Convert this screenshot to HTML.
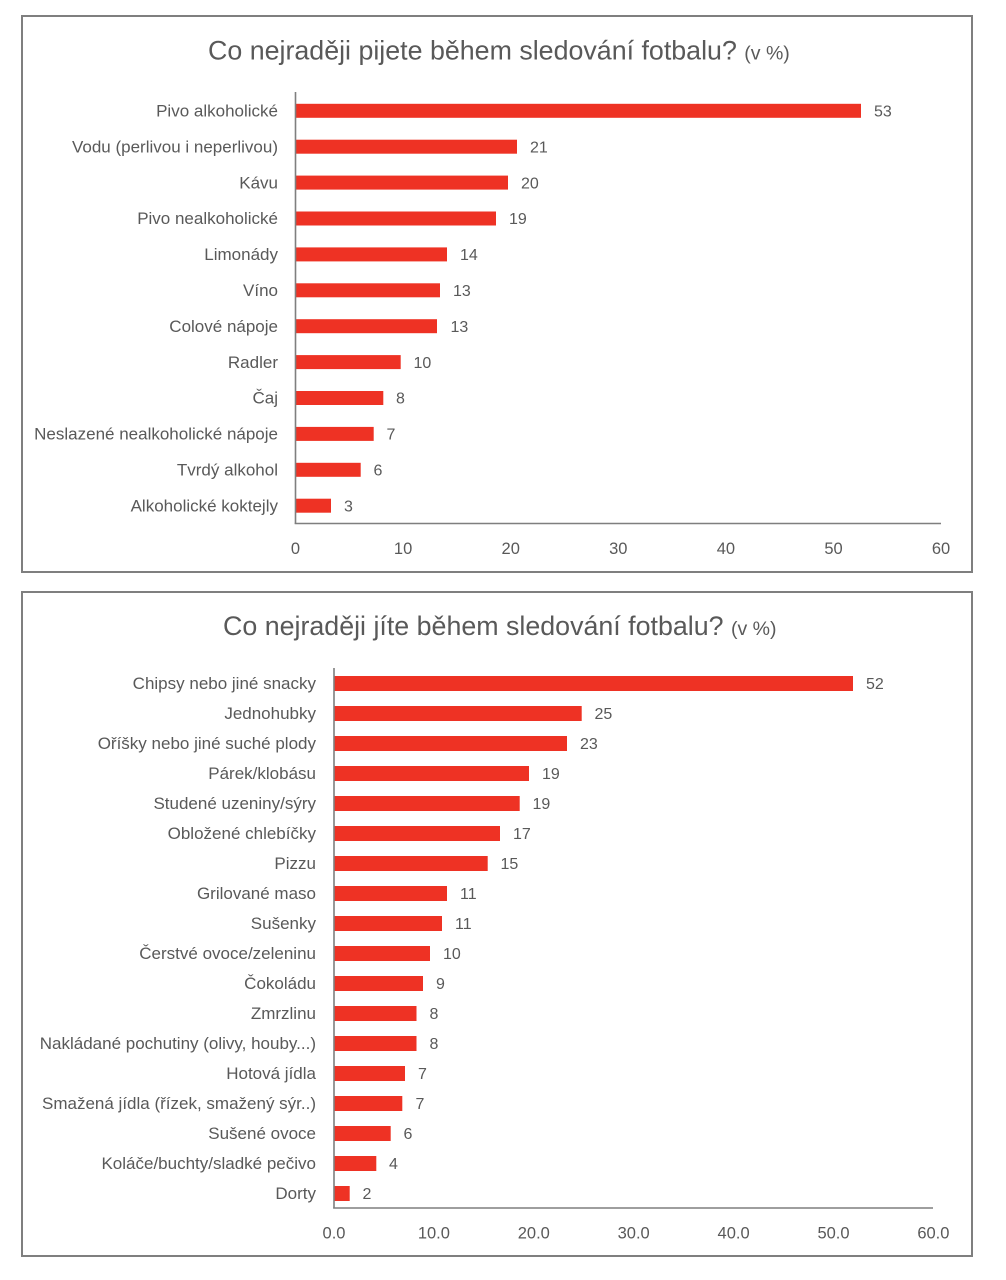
<!DOCTYPE html>
<html>
<head>
<meta charset="utf-8">
<style>
html,body{margin:0;padding:0;background:#fff;}
svg{display:block;}
text{font-family:"Liberation Sans",Arial,sans-serif;fill:#595959;}
.cat{font-size:17px;text-anchor:end;}
.val{font-size:16px;}
.tick{font-size:16.5px;text-anchor:middle;}
.title{font-size:26.8px;}
.bar{fill:#EE3224;}
</style>
</head>
<body>
<svg width="1006" height="1280" viewBox="0 0 1006 1280" xmlns="http://www.w3.org/2000/svg">
<rect x="0" y="0" width="1006" height="1280" fill="#fff"/>

<!-- ===== TOP CHART ===== -->
<rect x="22" y="16" width="950" height="556" fill="#fff" stroke="#7f7f7f" stroke-width="2"/>
<text class="title" x="208" y="59.5">Co nejraději pijete během sledování fotbalu? <tspan font-size="19.5">(v %)</tspan></text>

<!-- bars top: centers 110.8 + 35.9*i, height 14 -->
<rect class="bar" x="296" y="103.8" width="565" height="14"/>
<rect class="bar" x="296" y="139.7" width="221" height="14"/>
<rect class="bar" x="296" y="175.6" width="212" height="14"/>
<rect class="bar" x="296" y="211.5" width="200" height="14"/>
<rect class="bar" x="296" y="247.4" width="151" height="14"/>
<rect class="bar" x="296" y="283.3" width="144" height="14"/>
<rect class="bar" x="296" y="319.2" width="141" height="14"/>
<rect class="bar" x="296" y="355.1" width="104.7" height="14"/>
<rect class="bar" x="296" y="391.0" width="87.3" height="14"/>
<rect class="bar" x="296" y="426.9" width="77.7" height="14"/>
<rect class="bar" x="296" y="462.8" width="64.7" height="14"/>
<rect class="bar" x="296" y="498.7" width="35" height="14"/>

<!-- axes top -->
<line x1="295.5" y1="92" x2="295.5" y2="524" stroke="#7f7f7f" stroke-width="1.6"/>
<line x1="294.7" y1="523.5" x2="941" y2="523.5" stroke="#7f7f7f" stroke-width="1.6"/>

<!-- category labels top -->
<text class="cat" x="278" y="116.5">Pivo alkoholické</text>
<text class="cat" x="278" y="152.4">Vodu (perlivou i neperlivou)</text>
<text class="cat" x="278" y="188.3">Kávu</text>
<text class="cat" x="278" y="224.2">Pivo nealkoholické</text>
<text class="cat" x="278" y="260.1">Limonády</text>
<text class="cat" x="278" y="296.0">Víno</text>
<text class="cat" x="278" y="331.9">Colové nápoje</text>
<text class="cat" x="278" y="367.8">Radler</text>
<text class="cat" x="278" y="403.7">Čaj</text>
<text class="cat" x="278" y="439.6">Neslazené nealkoholické nápoje</text>
<text class="cat" x="278" y="475.5">Tvrdý alkohol</text>
<text class="cat" x="278" y="511.4">Alkoholické koktejly</text>

<!-- value labels top -->
<text class="val" x="874" y="116.5">53</text>
<text class="val" x="530" y="152.4">21</text>
<text class="val" x="521" y="188.3">20</text>
<text class="val" x="509" y="224.2">19</text>
<text class="val" x="460" y="260.1">14</text>
<text class="val" x="453" y="296.0">13</text>
<text class="val" x="450.5" y="331.9">13</text>
<text class="val" x="413.5" y="367.8">10</text>
<text class="val" x="396" y="403.7">8</text>
<text class="val" x="386.5" y="439.6">7</text>
<text class="val" x="373.5" y="475.5">6</text>
<text class="val" x="344" y="511.4">3</text>

<!-- ticks top -->
<text class="tick" x="295.5" y="554">0</text>
<text class="tick" x="403.1" y="554">10</text>
<text class="tick" x="510.7" y="554">20</text>
<text class="tick" x="618.3" y="554">30</text>
<text class="tick" x="725.9" y="554">40</text>
<text class="tick" x="833.5" y="554">50</text>
<text class="tick" x="941" y="554">60</text>

<!-- ===== BOTTOM CHART ===== -->
<rect x="22" y="592" width="950" height="664" fill="#fff" stroke="#7f7f7f" stroke-width="2"/>
<text class="title" x="223" y="635">Co nejraději jíte během sledování fotbalu? <tspan font-size="19.5">(v %)</tspan></text>

<!-- bars bottom: centers 683.5 + 30*i, height 15 -->
<rect class="bar" x="334.5" y="676" width="518.5" height="15"/>
<rect class="bar" x="334.5" y="706" width="247.2" height="15"/>
<rect class="bar" x="334.5" y="736" width="232.5" height="15"/>
<rect class="bar" x="334.5" y="766" width="194.5" height="15"/>
<rect class="bar" x="334.5" y="796" width="185.2" height="15"/>
<rect class="bar" x="334.5" y="826" width="165.5" height="15"/>
<rect class="bar" x="334.5" y="856" width="153.2" height="15"/>
<rect class="bar" x="334.5" y="886" width="112.5" height="15"/>
<rect class="bar" x="334.5" y="916" width="107.5" height="15"/>
<rect class="bar" x="334.5" y="946" width="95.5" height="15"/>
<rect class="bar" x="334.5" y="976" width="88.5" height="15"/>
<rect class="bar" x="334.5" y="1006" width="82" height="15"/>
<rect class="bar" x="334.5" y="1036" width="82" height="15"/>
<rect class="bar" x="334.5" y="1066" width="70.5" height="15"/>
<rect class="bar" x="334.5" y="1096" width="67.8" height="15"/>
<rect class="bar" x="334.5" y="1126" width="56.2" height="15"/>
<rect class="bar" x="334.5" y="1156" width="41.8" height="15"/>
<rect class="bar" x="334.5" y="1186" width="15.2" height="15"/>

<!-- axes bottom -->
<line x1="334" y1="668" x2="334" y2="1208.5" stroke="#7f7f7f" stroke-width="1.6"/>
<line x1="333.2" y1="1208" x2="933" y2="1208" stroke="#7f7f7f" stroke-width="1.6"/>

<!-- category labels bottom -->
<text class="cat" x="316" y="689.2">Chipsy nebo jiné snacky</text>
<text class="cat" x="316" y="719.2">Jednohubky</text>
<text class="cat" x="316" y="749.2">Oříšky nebo jiné suché plody</text>
<text class="cat" x="316" y="779.2">Párek/klobásu</text>
<text class="cat" x="316" y="809.2">Studené uzeniny/sýry</text>
<text class="cat" x="316" y="839.2">Obložené chlebíčky</text>
<text class="cat" x="316" y="869.2">Pizzu</text>
<text class="cat" x="316" y="899.2">Grilované maso</text>
<text class="cat" x="316" y="929.2">Sušenky</text>
<text class="cat" x="316" y="959.2">Čerstvé ovoce/zeleninu</text>
<text class="cat" x="316" y="989.2">Čokoládu</text>
<text class="cat" x="316" y="1019.2">Zmrzlinu</text>
<text class="cat" x="316" y="1049.2">Nakládané pochutiny (olivy, houby...)</text>
<text class="cat" x="316" y="1079.2">Hotová jídla</text>
<text class="cat" x="316" y="1109.2">Smažená jídla (řízek, smažený sýr..)</text>
<text class="cat" x="316" y="1139.2">Sušené ovoce</text>
<text class="cat" x="316" y="1169.2">Koláče/buchty/sladké pečivo</text>
<text class="cat" x="316" y="1199.2">Dorty</text>

<!-- value labels bottom -->
<text class="val" x="866" y="689.2">52</text>
<text class="val" x="594.5" y="719.2">25</text>
<text class="val" x="580" y="749.2">23</text>
<text class="val" x="542" y="779.2">19</text>
<text class="val" x="532.5" y="809.2">19</text>
<text class="val" x="513" y="839.2">17</text>
<text class="val" x="500.5" y="869.2">15</text>
<text class="val" x="460" y="899.2">11</text>
<text class="val" x="455" y="929.2">11</text>
<text class="val" x="443" y="959.2">10</text>
<text class="val" x="436" y="989.2">9</text>
<text class="val" x="429.5" y="1019.2">8</text>
<text class="val" x="429.5" y="1049.2">8</text>
<text class="val" x="418" y="1079.2">7</text>
<text class="val" x="415.5" y="1109.2">7</text>
<text class="val" x="403.5" y="1139.2">6</text>
<text class="val" x="389" y="1169.2">4</text>
<text class="val" x="362.5" y="1199.2">2</text>

<!-- ticks bottom -->
<text class="tick" x="334" y="1238.3">0.0</text>
<text class="tick" x="433.9" y="1238.3">10.0</text>
<text class="tick" x="533.8" y="1238.3">20.0</text>
<text class="tick" x="633.7" y="1238.3">30.0</text>
<text class="tick" x="733.6" y="1238.3">40.0</text>
<text class="tick" x="833.5" y="1238.3">50.0</text>
<text class="tick" x="933.4" y="1238.3">60.0</text>
</svg>
</body>
</html>
